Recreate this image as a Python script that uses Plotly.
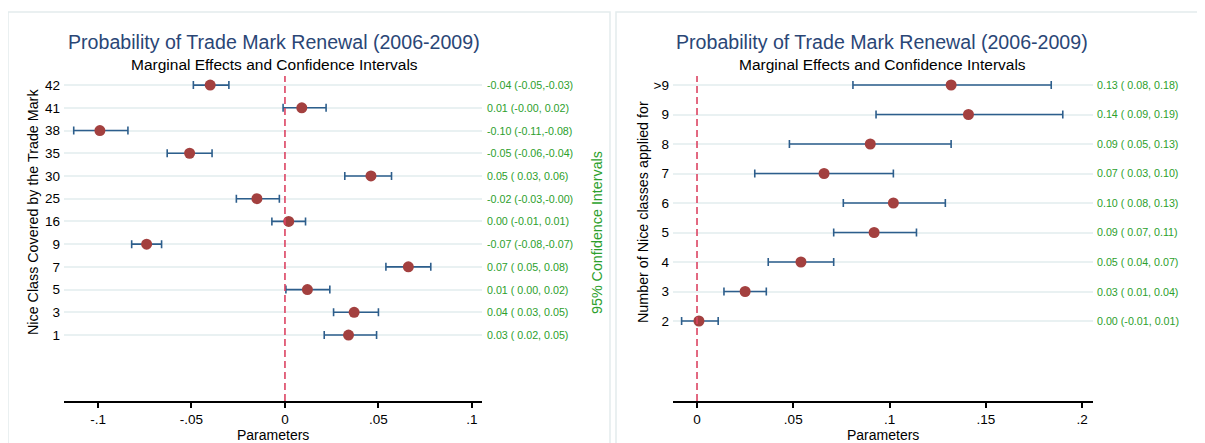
import plotly.graph_objects as go

W, H = 1205, 443
OFF = 8  # page body margin of the browser

# ---------------- data (top row first) ----------------
nice_class = ["42", "41", "38", "35", "30", "25", "16", "9", "7", "5", "3", "1"]
nice_est = [-0.040, 0.009, -0.099, -0.051, 0.046, -0.015, 0.002, -0.074, 0.066, 0.012, 0.037, 0.034]
nice_lo = [-0.049, -0.001, -0.113, -0.063, 0.032, -0.026, -0.007, -0.082, 0.054, 0.0005, 0.026, 0.021]
nice_hi = [-0.030, 0.022, -0.084, -0.039, 0.057, -0.003, 0.011, -0.066, 0.078, 0.024, 0.050, 0.049]
nice_text = ["-0.04 (-0.05,-0.03)", "0.01 (-0.00, 0.02)", "-0.10 (-0.11,-0.08)", "-0.05 (-0.06,-0.04)",
             "0.05 ( 0.03, 0.06)", "-0.02 (-0.03,-0.00)", "0.00 (-0.01, 0.01)", "-0.07 (-0.08,-0.07)",
             "0.07 ( 0.05, 0.08)", "0.01 ( 0.00, 0.02)", "0.04 ( 0.03, 0.05)", "0.03 ( 0.02, 0.05)"]

n_classes = [">9", "9", "8", "7", "6", "5", "4", "3", "2"]
num_est = [0.132, 0.141, 0.090, 0.066, 0.102, 0.092, 0.054, 0.025, 0.001]
num_lo = [0.081, 0.093, 0.048, 0.030, 0.076, 0.071, 0.037, 0.014, -0.008]
num_hi = [0.184, 0.190, 0.132, 0.102, 0.129, 0.114, 0.071, 0.036, 0.011]
num_text = ["0.13 ( 0.08, 0.18)", "0.14 ( 0.09, 0.19)", "0.09 ( 0.05, 0.13)", "0.07 ( 0.03, 0.10)",
            "0.10 ( 0.08, 0.13)", "0.09 ( 0.07, 0.11)", "0.05 ( 0.04, 0.07)", "0.03 ( 0.01, 0.04)",
            "0.00 (-0.01, 0.01)"]

left_tickvals = [-0.1, -0.05, 0, 0.05, 0.1]
left_ticktext = ["-.1", "-.05", "0", ".05", ".1"]
right_tickvals = [0, 0.05, 0.1, 0.15, 0.2]
right_ticktext = ["0", ".05", ".1", ".15", ".2"]

title_text = "Probability of Trade Mark Renewal (2006-2009)"
subtitle_text = "Marginal Effects and Confidence Intervals"

# ---------------- styling ----------------
FONT = "Liberation Sans, Arial, Helvetica, sans-serif"
NAVY = "#2d5e8c"
MAROON = "#a3403f"
GREEN = "#2ca02c"
DASH_RED = "#dc4463"
GRID = "#e9f1f2"
TITLE_C = "#2a4676"
BORDER = "#e3eced"


def X(px):
    return (px - OFF) / W


def Y(py):
    return 1 - (py - OFF) / H


fig = go.Figure()


def add_panel(cats, est, lo, hi, texts, xa, ya, label_px):
    n = len(cats)
    ypos = [n - i for i in range(n)]
    fig.add_trace(go.Scatter(
        x=est, y=ypos, mode="markers",
        marker=dict(color=MAROON, size=11, line=dict(width=0)),
        error_x=dict(type="data", symmetric=False,
                     array=[h - e for h, e in zip(hi, est)],
                     arrayminus=[e - l for e, l in zip(est, lo)],
                     color=NAVY, thickness=1.6, width=4),
        xaxis=xa, yaxis=ya, showlegend=False, hoverinfo="skip"))
    for t, yv in zip(texts, ypos):
        fig.add_annotation(x=X(label_px), xref="paper", y=yv, yref=ya, text=t,
                           showarrow=False, xanchor="left", yanchor="middle",
                           font=dict(family=FONT, size=10.7, color=GREEN))
    return ypos


ypos_l = add_panel(nice_class, nice_est, nice_lo, nice_hi, nice_text, "x", "y", 485)
ypos_r = add_panel(n_classes, num_est, num_lo, num_hi, num_text, "x2", "y2", 1095)

ydom = [Y(401), Y(76)]
axis_common = dict(showgrid=False, zeroline=False, showline=True, linecolor="black", linewidth=1.5,
                   ticks="outside", ticklen=5, tickwidth=1.5, tickcolor="black",
                   tickfont=dict(family=FONT, size=13.5, color="black"))
yaxis_common = dict(showgrid=True, gridcolor=GRID, gridwidth=2, zeroline=False, showline=False,
                    ticks="", ticklabelstandoff=3, tickfont=dict(family=FONT, size=13.5, color="black"))

fig.update_layout(
    width=W, height=H, margin=dict(l=0, r=0, t=0, b=0),
    paper_bgcolor="white", plot_bgcolor="white",
    xaxis=dict(domain=[X(64), X(482)], range=[-0.1182, 0.1054], anchor="y",
               tickvals=left_tickvals, ticktext=left_ticktext, **axis_common),
    yaxis=dict(domain=ydom, range=[-1.904, 12.40], anchor="x",
               tickvals=ypos_l, ticktext=nice_class, **yaxis_common),
    xaxis2=dict(domain=[X(673), X(1093)], range=[-0.01247, 0.2057], anchor="y2",
                tickvals=right_tickvals, ticktext=right_ticktext, **axis_common),
    yaxis2=dict(domain=ydom, range=[-1.712, 9.305], anchor="x2",
                tickvals=ypos_r, ticktext=n_classes, **yaxis_common),
)

# reference lines at zero
for xa, ya in (("x", "y"), ("x2", "y2")):
    fig.add_shape(type="line", xref=xa, yref=ya + " domain", x0=0, x1=0, y0=0, y1=1,
                  line=dict(color=DASH_RED, width=1.6, dash="7px,4px"), layer="above")

# panel borders
fig.add_shape(type="rect", xref="paper", yref="paper", x0=X(8), x1=X(610), y0=-0.05, y1=Y(12),
              line=dict(color=BORDER, width=1.5), layer="below")
fig.add_shape(type="rect", xref="paper", yref="paper", x0=X(616), x1=X(1225), y0=-0.05, y1=Y(12),
              line=dict(color=BORDER, width=1.5), layer="below")

# titles and axis titles
for cx, ytitle, ytx, gx in ((274, "Nice Class Covered by the Trade Mark", 33, 597),
                            (882, "Number of Nice classes applied for", 643, 1205)):
    fig.add_annotation(x=X(cx), y=Y(42), xref="paper", yref="paper", text=title_text, showarrow=False,
                       xanchor="center", yanchor="middle", font=dict(family=FONT, size=19.6, color=TITLE_C))
    fig.add_annotation(x=X(cx), y=Y(64), xref="paper", yref="paper", text=subtitle_text, showarrow=False,
                       xanchor="center", yanchor="middle", font=dict(family=FONT, size=15.5, color="black"))
    fig.add_annotation(x=X(ytx), y=Y(212), xref="paper", yref="paper", text=ytitle, showarrow=False,
                       textangle=-90, xanchor="center", yanchor="middle",
                       font=dict(family=FONT, size=14.3, color="black"))
    fig.add_annotation(x=X(gx), y=Y(233), xref="paper", yref="paper", text="95% Confidence Intervals",
                       showarrow=False, textangle=-90, xanchor="center", yanchor="middle",
                       font=dict(family=FONT, size=14.3, color=GREEN))

for cx in (273, 883):
    fig.add_annotation(x=X(cx), y=Y(435), xref="paper", yref="paper", text="Parameters", showarrow=False,
                       xanchor="center", yanchor="middle", font=dict(family=FONT, size=14, color="black"))

fig.write_html("out.html")
